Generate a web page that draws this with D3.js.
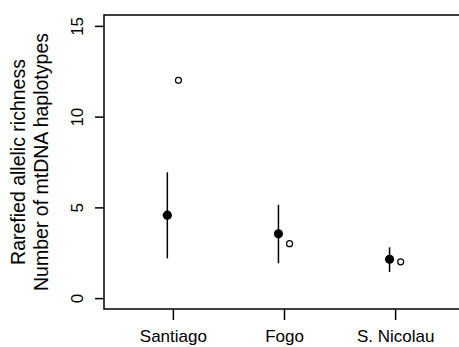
<!DOCTYPE html>
<html>
<head>
<meta charset="utf-8">
<script src="https://cdn.jsdelivr.net/npm/d3@7"></script>
<style>
  html, body { margin: 0; padding: 0; background: #fff; }
  svg { display: block; font-family: "Liberation Sans", Arial, sans-serif; }
</style>
</head>
<body>
<svg id="chart" width="459" height="347"></svg>
<script>
const categories = ["Santiago", "Fogo", "S. Nicolau"];
const allelicMean = [4.57, 3.54, 2.14];
const allelicLow = [2.19, 1.92, 1.44];
const allelicHigh = [6.93, 5.14, 2.80];
const haplotypes = [12, 3, 2];
const yTicks = [0, 5, 10, 15];
const titleLines = ["Rarefied allelic richness", "Number of mtDNA haplotypes"];

(function () {
const svg = d3.select("#chart");
const pLeft = 104, pRight = 464, pTop = 15, pBottom = 309;

const x = d3.scaleLinear().domain([0.38, 3.62]).range([pLeft, pRight]);
const y = d3.scaleLinear().domain([-0.6, 15.6]).range([pBottom, pTop]);
const off = 0.05;

// box
svg.append("rect")
  .attr("x", pLeft).attr("y", pTop)
  .attr("width", pRight - pLeft).attr("height", pBottom - pTop)
  .attr("fill", "none").attr("stroke", "#000").attr("stroke-width", 1.5);

// y axis
const ya = svg.append("g")
  .attr("transform", `translate(${pLeft},0)`)
  .call(d3.axisLeft(y).tickValues(yTicks).tickSize(9).tickFormat(d3.format("d")));
ya.select(".domain").remove();
ya.selectAll(".tick line").attr("stroke-width", 1.5);
ya.selectAll(".tick text")
  .attr("x", 0).attr("y", 0).attr("dy", 0)
  .attr("transform", "translate(-21,0) rotate(-90)")
  .attr("text-anchor", "middle")
  .attr("font-size", 17)
  .attr("font-family", "Liberation Sans, Arial, sans-serif")
  .attr("fill", "#000");

// x axis
const xa = svg.append("g")
  .attr("transform", `translate(0,${pBottom})`)
  .call(d3.axisBottom(x).tickValues([1, 2, 3]).tickSize(11).tickFormat((d) => categories[d - 1]));
xa.select(".domain").remove();
xa.selectAll(".tick line").attr("stroke-width", 1.5);
xa.selectAll(".tick text")
  .attr("y", 33).attr("dy", 0)
  .attr("font-size", 17)
  .attr("font-family", "Liberation Sans, Arial, sans-serif")
  .attr("fill", "#000");

// y title
const tx = [25, 48];
titleLines.forEach((t, i) => {
  svg.append("text")
    .attr("transform", `translate(${tx[i]},${(pTop + pBottom) / 2}) rotate(-90)`)
    .attr("text-anchor", "middle")
    .attr("font-size", 19.5)
    .attr("fill", "#000")
    .text(t);
});

const idx = categories.map((c, i) => i);

// error bars
svg.selectAll("line.err").data(idx).enter().append("line")
  .attr("class", "err")
  .attr("x1", (i) => x(i + 1 - off)).attr("x2", (i) => x(i + 1 - off))
  .attr("y1", (i) => y(allelicLow[i])).attr("y2", (i) => y(allelicHigh[i]))
  .attr("stroke", "#000").attr("stroke-width", 1.5);

// filled points
svg.selectAll("circle.mean").data(idx).enter().append("circle")
  .attr("class", "mean")
  .attr("cx", (i) => x(i + 1 - off)).attr("cy", (i) => y(allelicMean[i]))
  .attr("r", 4.6).attr("fill", "#000");

// open points
svg.selectAll("circle.hap").data(idx).enter().append("circle")
  .attr("class", "hap")
  .attr("cx", (i) => x(i + 1 + off)).attr("cy", (i) => y(haplotypes[i]))
  .attr("r", 3).attr("fill", "#fff").attr("stroke", "#000").attr("stroke-width", 1.2);
})();
</script>
</body>
</html>
